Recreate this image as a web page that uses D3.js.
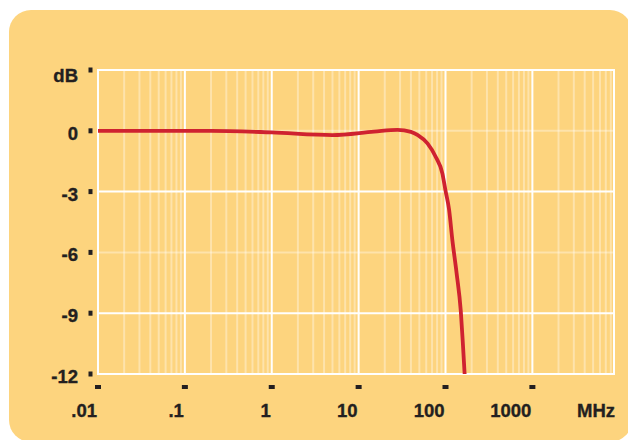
<!DOCTYPE html>
<html>
<head>
<meta charset="utf-8">
<script src="https://cdn.jsdelivr.net/npm/d3@7"></script>
<style>
  html, body { margin: 0; padding: 0; background: #ffffff; }
  svg { display: block; }
  text { font-family: "Liberation Sans", Arial, sans-serif; font-weight: bold; fill: #231f20; stroke: #231f20; stroke-width: 0.35px; }
</style>
</head>
<body>
<svg id="chart" width="628" height="440"></svg>
<script>
// Frequency response of the filter (MHz vs dB)
const freqMHz = [0.01, 0.2, 1, 5, 15, 28, 40, 48, 62, 77, 92, 100, 110, 120, 134, 150, 158, 166];
const gainDb  = [0, 0, -0.08, -0.21, -0.04, 0.05, -0.05, -0.21, -0.62, -1.28, -2.1, -2.95, -3.9, -5.4, -7.0, -8.9, -10.4, -12];

// Axis ticks and their labels
const xTicks = [0.01, 0.1, 1, 10, 100, 1000];
const xTickLabels = [".01", ".1", "1", "10", "100", "1000"];
const xUnit = "MHz";
const yTicks = [3, 0, -3, -6, -9, -12];
const yTickLabels = ["dB", "0", "-3", "-6", "-9", "-12"];
const yStrongLines = [3, -3, -9, -12];
const yFaintLines = [0, -6];

const svg = d3.select("#chart");
const ink = "#231f20";

// Rounded panel behind the plot
svg.append("rect")
  .attr("x", 9).attr("y", 10)
  .attr("width", 623).attr("height", 432)
  .attr("rx", 22).attr("ry", 22)
  .attr("fill", "#fdd47e");

const x = d3.scaleLog().domain([0.01, 8700]).range([98, 614]);
const y = d3.scaleLinear().domain([-12, 3]).range([374, 70]);

const grid = svg.append("g");

// Minor vertical lines (2..9 within each decade)
const minor = [];
for (let e = -2; e <= 3; e++) {
  for (let m = 2; m <= 9; m++) {
    const v = m * Math.pow(10, e);
    if (v < x.domain()[1]) minor.push(v);
  }
}
grid.selectAll("line.minor").data(minor).join("line")
  .attr("class", "minor")
  .attr("x1", d => x(d)).attr("x2", d => x(d))
  .attr("y1", y(3)).attr("y2", y(-12))
  .attr("stroke", "#ffffff").attr("stroke-opacity", 0.35).attr("stroke-width", 2);

// Faint horizontal lines
grid.selectAll("line.hfaint").data(yFaintLines).join("line")
  .attr("class", "hfaint")
  .attr("x1", x.range()[0]).attr("x2", x.range()[1])
  .attr("y1", d => y(d)).attr("y2", d => y(d))
  .attr("stroke", "#ffffff").attr("stroke-opacity", 0.35).attr("stroke-width", 2);

// Decade lines and the right border
grid.selectAll("line.major").data(xTicks.concat([x.domain()[1]])).join("line")
  .attr("class", "major")
  .attr("x1", d => x(d)).attr("x2", d => x(d))
  .attr("y1", y(3) - 1).attr("y2", y(-12) + 1)
  .attr("stroke", "#ffffff").attr("stroke-width", 2);

// Strong horizontal lines
grid.selectAll("line.hstrong").data(yStrongLines).join("line")
  .attr("class", "hstrong")
  .attr("x1", x.range()[0] - 1).attr("x2", x.range()[1] + 1)
  .attr("y1", d => y(d)).attr("y2", d => y(d))
  .attr("stroke", "#ffffff").attr("stroke-width", 2);

// Response curve
const line = d3.line()
  .x((d, i) => x(freqMHz[i]))
  .y(d => y(d))
  .curve(d3.curveMonotoneX);
svg.append("path")
  .datum(gainDb)
  .attr("d", line)
  .attr("fill", "none")
  .attr("stroke", "#cf2230")
  .attr("stroke-width", 3.8)
  .attr("stroke-linejoin", "round");

// Y axis: small tick marks and labels
const yAxis = svg.append("g");
yAxis.selectAll("rect").data(yTicks).join("rect")
  .attr("x", 88.5).attr("y", d => y(d) - 2.5)
  .attr("width", 4).attr("height", 5)
  .attr("fill", ink);
yAxis.selectAll("text").data(yTicks).join("text")
  .attr("x", 78)
  .attr("y", (d, i) => y(d) + (i === 0 ? 11.5 : 9))
  .attr("text-anchor", "end")
  .attr("font-size", 18.5)
  .text((d, i) => yTickLabels[i]);

// X axis: small tick marks and labels
const xAxis = svg.append("g");
xAxis.selectAll("rect").data(xTicks).join("rect")
  .attr("x", d => x(d) - 3).attr("y", 385)
  .attr("width", 6).attr("height", 4)
  .attr("fill", ink);
xAxis.selectAll("text").data(xTicks).join("text")
  .attr("x", d => x(d) - 1)
  .attr("y", 416.5)
  .attr("text-anchor", "end")
  .attr("font-size", 18.5)
  .text((d, i) => xTickLabels[i]);
xAxis.append("text")
  .attr("x", 615).attr("y", 416.5)
  .attr("text-anchor", "end")
  .attr("font-size", 18.5)
  .text(xUnit);
</script>
</body>
</html>
